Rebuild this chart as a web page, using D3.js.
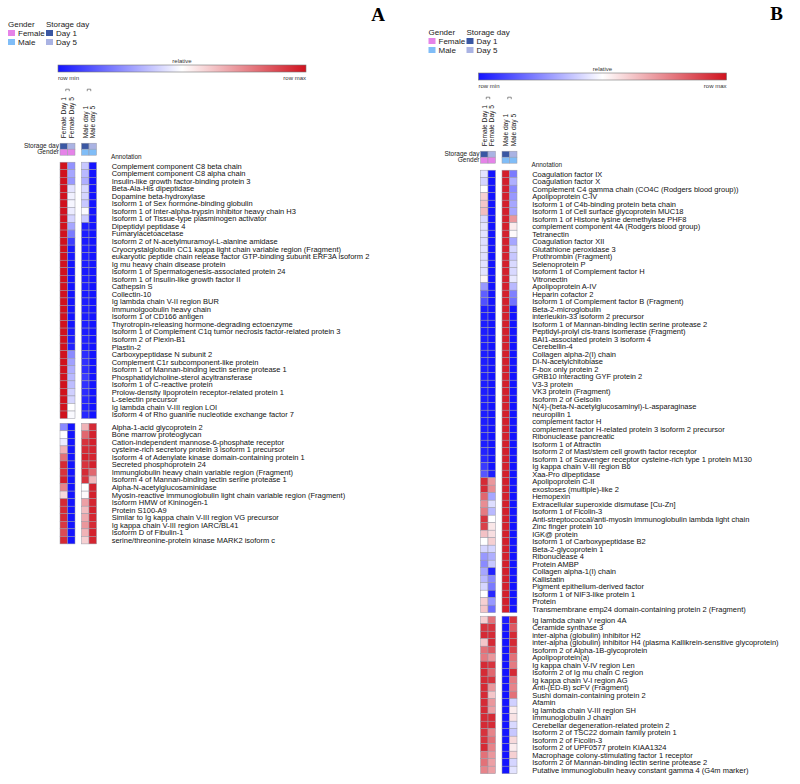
<!DOCTYPE html>
<html><head><meta charset="utf-8">
<script src="https://cdn.jsdelivr.net/npm/d3@7"></script>
<style>body{margin:0;background:#fff}svg{display:block}</style>
</head><body><svg id="c" width="800" height="784"></svg>
<script>
// ---------- DATA ----------
const colNames = ["Female Day 1", "Female Day 5", "Male day 1", "Male day 5"];
const colGender = ["Female", "Female", "Male", "Male"];
const colDay = ["Day 1", "Day 5", "Day 1", "Day 5"];
const genderLevels = ["Female", "Male"];
const dayLevels = ["Day 1", "Day 5"];
const colorbarLabels = ["row min", "row max"];

const labelsA1 = [
"Complement component C8 beta chain","Complement component C8 alpha chain","Insulin-like growth factor-binding protein 3",
"Beta-Ala-His dipeptidase","Dopamine beta-hydroxylase","Isoform 1 of Sex hormone-binding globulin",
"Isoform 1 of Inter-alpha-trypsin inhibitor heavy chain H3","Isoform 1 of Tissue-type plasminogen activator",
"Dipeptidyl peptidase 4","Fumarylacetoacetase","Isoform 2 of N-acetylmuramoyl-L-alanine amidase",
"Cryocrystalglobulin CC1 kappa light chain variable region (Fragment)",
"eukaryotic peptide chain release factor GTP-binding subunit ERF3A isoform 2","Ig mu heavy chain disease protein",
"Isoform 1 of Spermatogenesis-associated protein 24","Isoform 1 of Insulin-like growth factor II","Cathepsin S",
"Collectin-10","Ig lambda chain V-II region BUR","Immunolgoobulin heavy chain","Isoform 1 of CD166 antigen",
"Thyrotropin-releasing hormone-degrading ectoenzyme","Isoform 1 of Complement C1q tumor necrosis factor-related protein 3",
"Isoform 2 of Plexin-B1","Plastin-2","Carboxypeptidase N subunit 2","Complement C1r subcomponent-like protein",
"Isoform 1 of Mannan-binding lectin serine protease 1","Phosphatidylcholine-sterol acyltransferase",
"Isoform 1 of C-reactive protein","Prolow-density lipoprotein receptor-related protein 1","L-selectin precursor",
"Ig lambda chain V-III region LOI","Isoform 4 of Rho guanine nucleotide exchange factor 7"];
const valuesA1 = [
[1,0.27,0.38,0],[1,0.31,0.35,0],[1,0.28,0.33,0],[1,0.44,0.42,0],[1,0.47,0.41,0],[1,0.48,0.38,0],
[1,0.46,0.49,0],[1,0.41,0.39,0],[1,0.31,0.02,0],[1,0.22,0.02,0],[1,0.09,0.01,0],[1,0.01,0.02,0],
[1,0.01,0.02,0],[1,0,0.02,0],[1,0,0.01,0],[1,0,0.02,0],[1,0,0.02,0],[1,0,0.01,0],
[1,0,0.02,0],[1,0,0.02,0],[1,0,0.02,0],[1,0,0.02,0],[1,0.01,0.02,0],[1,0.02,0.03,0],
[1,0.03,0.02,0],[1,0.25,0.05,0],[1,0.3,0.06,0],[1,0.33,0.05,0],[1,0.35,0.08,0],[1,0.36,0.06,0],
[1,0.4,0.05,0],[1,0.41,0.04,0],[1,0.5,0.03,0],[1,0.49,0.04,0]];

const labelsA2 = [
"Alpha-1-acid glycoprotein 2","Bone marrow proteoglycan","Cation-independent mannose-6-phosphate receptor",
"cysteine-rich secretory protein 3 isoform 1 precursor","Isoform 4 of Adenylate kinase domain-containing protein 1",
"Secreted phosphoprotein 24","Immunglobulin heavy chain variable region (Fragment)",
"Isoform 4 of Mannan-binding lectin serine protease 1","Alpha-N-acetylglucosaminidase",
"Myosin-reactive immunoglobulin light chain variable region (Fragment)","Isoform HMW of Kininogen-1","Protein S100-A9",
"Similar to Ig kappa chain V-III region VG precursor","Ig kappa chain V-III region IARC/BL41","Isoform D of Fibulin-1",
"serine/threonine-protein kinase MARK2 isoform c"];
const valuesA2 = [
[0.25,0,0.66,0.95],[0.5,0,0.82,0.97],[0.46,0,0.93,0.97],[0.66,0,0.95,0.96],[0.8,0,0.97,0.96],
[0.95,0,0.93,0.97],[0.93,0,0.95,0.82],[0.97,0,0.93,0.65],[0.76,0,0.5,0.97],[0.58,0,0.51,0.97],
[0.95,0,0.7,0.96],[0.95,0,0.64,0.97],[0.95,0,0.68,0.96],[0.92,0,0.72,0.95],[0.88,0,0.66,0.97],
[0.95,0,0.6,0.96]];

const labelsB1 = [
"Coagulation factor IX","Coagulation factor X","Complement C4 gamma chain (CO4C (Rodgers blood group))",
"Apolipoprotein C-IV","Isoform 1 of C4b-binding protein beta chain","Isoform 1 of Cell surface glycoprotein MUC18",
"Isoform 1 of Histone lysine demethylase PHF8","complement component 4A (Rodgers blood group)","Tetranectin",
"Coagulation factor XII","Glutathione peroxidase 3","Prothrombin (Fragment)","Selenoprotein P",
"Isoform 1 of Complement factor H","Vitronectin","Apolipoprotein A-IV","Heparin cofactor 2",
"Isoform 1 of Complement factor B (Fragment)","Beta-2-microglobulin","interleukin-33 isoform 2 precursor",
"Isoform 1 of Mannan-binding lectin serine protease 2","Peptidyl-prolyl cis-trans isomerase (Fragment)",
"BAI1-associated protein 3 isoform 4","Cerebellin-4","Collagen alpha-2(I) chain","Di-N-acetylchitobiase",
"F-box only protein 2","GRB10 interacting GYF protein 2","V3-3 protein","VK3 protein (Fragment)",
"Isoform 2 of Gelsolin","N(4)-(beta-N-acetylglucosaminyl)-L-asparaginase","neuropilin 1","complement factor H",
"complement factor H-related protein 3 isoform 2 precursor","Ribonuclease pancreatic","Isoform 1 of Attractin",
"Isoform 2 of Mast/stem cell growth factor receptor",
"Isoform 1 of Scavenger receptor cysteine-rich type 1 protein M130","Ig kappa chain V-III region B6",
"Xaa-Pro dipeptidase","Apolipoprotein C-II","exostoses (multiple)-like 2","Hemopexin",
"Extracellular superoxide dismutase [Cu-Zn]","Isoform 1 of Ficolin-3",
"Anti-streptococcal/anti-myosin immunoglobulin lambda light chain","Zinc finger protein 10","IGK@ protein",
"Isoform 1 of Carboxypeptidase B2","Beta-2-glycoprotein 1","Ribonuclease 4","Protein AMBP",
"Collagen alpha-1(I) chain","Kallistatin","Pigment epithelium-derived factor","Isoform 1 of NIF3-like protein 1",
"Protein","Transmembrane emp24 domain-containing protein 2 (Fragment)"];
const valuesB1 = [
[0.44,0,0.97,0.22],[0.41,0,0.97,0.33],[0.5,0,0.97,0.25],[0.6,0,0.97,0.28],[0.62,0,0.97,0.31],
[0.64,0,0.97,0.31],[0.42,0,0.97,0.72],[0.44,0,0.97,0.54],[0.44,0,0.97,0.51],[0.43,0,0.97,0.31],
[0.44,0,0.97,0.41],[0.43,0,0.97,0.38],[0.44,0,0.97,0.42],[0.44,0,0.97,0.42],[0.52,0,0.97,0.45],
[0.28,0,0.97,0.35],[0.16,0,0.97,0.23],[0.13,0,0.97,0.2],[0.02,0,0.97,0],[0.02,0,0.97,0],
[0.02,0,0.97,0],[0.02,0,0.97,0],[0.02,0,0.97,0],[0.02,0,0.97,0],[0.02,0,0.97,0],
[0.02,0,0.97,0],[0.02,0,0.97,0],[0.02,0,0.97,0],[0.02,0,0.97,0],[0.02,0,0.97,0],
[0.02,0,0.97,0],[0.02,0,0.97,0],[0.02,0,0.97,0],[0.02,0,0.97,0],[0.02,0,0.97,0],
[0.02,0,0.97,0],[0.02,0,0.97,0],[0.03,0,0.97,0],[0.04,0,0.97,0],[0.08,0,0.97,0],
[0.14,0.02,0.97,0],[0.95,0.72,0.97,0],[0.95,0.74,0.97,0],[0.82,0.31,0.97,0],[0.74,0.43,0.97,0],
[0.78,0.35,0.97,0],[0.93,0.5,0.97,0],[0.9,0.55,0.97,0],[0.63,0.57,0.97,0],[0.5,0.6,0.97,0],
[0.41,0.41,0.97,0],[0.28,0.33,0.97,0],[0.25,0.38,0.97,0],[0.31,0.03,0.97,0],[0.35,0.25,0.97,0],
[0.41,0.22,0.97,0],[0.5,0.04,0.97,0],[0.6,0.28,0.97,0],[0.62,0.19,0.97,0]];

const labelsB2 = [
"Ig lambda chain V region 4A","Ceramide synthase 3","inter-alpha (globulin) inhibitor H2",
"inter-alpha (globulin) inhibitor H4 (plasma Kallikrein-sensitive glycoprotein)","Isoform 2 of Alpha-1B-glycoprotein",
"Apolipoprotein(a)","Ig kappa chain V-IV region Len","Isoform 2 of Ig mu chain C region","Ig kappa chain V-I region AG",
"Anti-(ED-B) scFV (Fragment)","Sushi domain-containing protein 2","Afamin","Ig lambda chain V-III region SH",
"Immunoglobulin J chain","Cerebellar degeneration-related protein 2","Isoform 2 of TSC22 domain family protein 1",
"Isoform 2 of Ficolin-3","Isoform 2 of UPF0577 protein KIAA1324","Macrophage colony-stimulating factor 1 receptor",
"Isoform 2 of Mannan-binding lectin serine protease 2","Putative immunoglobulin heavy constant gamma 4 (G4m marker)"];
const valuesB2 = [
[0.6,0.8,0.02,0.93],[0.93,0.93,0,0.85],[0.95,0.95,0,0.95],[0.62,0.95,0,0.95],[0.8,0.85,0,0.9],
[0.78,0.72,0,0.8],[0.95,0.93,0,0.78],[0.95,0.82,0,0.95],[0.95,0.93,0,0.78],[0.95,0.72,0,0.76],
[0.95,0.62,0,0.8],[0.95,0.72,0,0.4],[0.95,0.7,0,0.54],[0.95,0.95,0,0.56],[0.95,0.95,0,0.42],
[0.93,0.76,0,0.38],[0.93,0.8,0,0.58],[0.95,0.76,0,0.54],[0.8,0.72,0,0.6],[0.8,0.7,0,0.41],
[0.76,0.7,0,0.44]];

// ---------- STYLE ----------
const FONT = "'Liberation Sans', Arial, sans-serif";
const color = d3.scaleLinear().domain([0, 0.5, 1]).range(["#1414ff", "#ffffff", "#d0121e"]);
const genderColor = d3.scaleOrdinal().domain(genderLevels).range(["#e583e8", "#80bdf7"]);
const dayColor = d3.scaleOrdinal().domain(dayLevels).range(["#3a57a3", "#aab3e3"]);
const gridStroke = "#9a9aa6";

const svg = d3.select("#c");
const defs = svg.append("defs");
const grad = defs.append("linearGradient").attr("id", "gradRel");
d3.range(0, 1.0001, 0.1).forEach(t => grad.append("stop").attr("offset", t).attr("stop-color", color(t)));

function drawPanel(cfg) {
  const g = svg.append("g").attr("transform", `translate(${cfg.ox},${cfg.oy})`);
  const cw = 7.5, colGap = 6.5, x0 = 60, top = cfg.top, rh = cfg.rh;

  // letter
  svg.append("text").attr("x", cfg.lx).attr("y", cfg.ly)
    .attr("font-family", "'Liberation Serif', 'Times New Roman', serif").attr("font-weight", "bold")
    .attr("font-size", 19).attr("text-anchor", "middle").text(cfg.letter);

  // legend
  const leg = g.append("g").attr("font-family", FONT).attr("font-size", 8).attr("fill", "#222");
  leg.append("text").attr("x", 8).attr("y", 27).text("Gender");
  leg.append("text").attr("x", 46).attr("y", 27).text("Storage day");
  genderLevels.forEach((k, i) => {
    leg.append("rect").attr("x", 8).attr("y", 30 + i * 9).attr("width", 7).attr("height", 6).attr("fill", genderColor(k));
    leg.append("text").attr("x", 18).attr("y", 36 + i * 9).text(k);
  });
  dayLevels.forEach((k, i) => {
    leg.append("rect").attr("x", 46).attr("y", 30 + i * 9).attr("width", 7).attr("height", 6).attr("fill", dayColor(k));
    leg.append("text").attr("x", 56).attr("y", 36 + i * 9).text(k);
  });

  // colorbar
  const cb = d3.scaleLinear().domain([0, 1]).range([58, 306]);
  g.append("rect").attr("x", cb(0)).attr("y", 65).attr("width", cb(1) - cb(0)).attr("height", 7)
    .attr("fill", "url(#gradRel)").attr("stroke", "#777").attr("stroke-width", 0.6);
  g.append("text").attr("x", cb(0.5)).attr("y", 63).attr("text-anchor", "middle")
    .attr("font-family", FONT).attr("font-size", 6).attr("fill", "#333").text("relative");
  g.append("text").attr("x", cb(0)).attr("y", 79.5).attr("font-family", FONT).attr("font-size", 6).attr("fill", "#333").text(colorbarLabels[0]);
  g.append("text").attr("x", cb(1)).attr("y", 79.5).attr("text-anchor", "end").attr("font-family", FONT).attr("font-size", 6).attr("fill", "#333").text(colorbarLabels[1]);

  // columns
  const xBand = d3.scaleBand().domain(d3.range(colNames.length)).range([0, colNames.length * cw]);
  const xPos = i => x0 + xBand(i) + (colGender[i] === "Male" ? colGap : 0);

  // column labels
  colNames.forEach((n, i) => {
    g.append("text").attr("transform", `translate(${xPos(i) + cw / 2 + 2.3},${top - 24}) rotate(-90)`)
      .attr("font-family", FONT).attr("font-size", 6.6).attr("fill", "#222").text(n);
  });
  // small group brackets
  [[0, 1], [2, 3]].forEach(([a, b]) => {
    const xa = xPos(a) + cw / 2 + 2, xb = xPos(b) + cw / 2 - 2;
    const yb = top - 73;
    g.append("path").attr("d", `M${xa},${yb + 2}V${yb}H${xb}V${yb + 2}`).attr("fill", "none").attr("stroke", "#444").attr("stroke-width", 0.6);
  });

  // annotations
  const ann = [{ name: "Storage day", y: top - 19, f: i => dayColor(colDay[i]) },
               { name: "Gender", y: top - 13, f: i => genderColor(colGender[i]) }];
  ann.forEach(a => {
    g.append("text").attr("x", x0 - 1).attr("y", a.y + 3).attr("dy", "0.35em").attr("text-anchor", "end")
      .attr("font-family", FONT).attr("font-size", 6.5).attr("fill", "#222").text(a.name);
    colNames.forEach((n, i) => {
      g.append("rect").attr("x", xPos(i)).attr("y", a.y).attr("width", cw).attr("height", 6)
        .attr("fill", a.f(i)).attr("stroke", gridStroke).attr("stroke-width", 0.5);
    });
  });
  g.append("text").attr("x", x0 + 51).attr("y", top - 5.5).attr("dy", "0.35em")
    .attr("font-family", FONT).attr("font-size", 6.4).attr("fill", "#222").text("Annotation");

  // heatmap groups
  let gTop = top;
  cfg.groups.forEach(grp => {
    const n = grp.labels.length;
    const y = d3.scaleBand().domain(d3.range(n)).range([gTop, gTop + n * rh]);
    const gg = g.append("g");
    grp.values.forEach((row, r) => {
      row.forEach((v, c) => {
        gg.append("rect").attr("x", xPos(c)).attr("y", y(r)).attr("width", cw).attr("height", y.bandwidth())
          .attr("fill", color(v)).attr("stroke", gridStroke).attr("stroke-width", 0.5);
      });
    });
    gg.selectAll("text.lab").data(grp.labels).join("text").attr("class", "lab")
      .attr("x", x0 + 51.7).attr("y", (d, r) => y(r) + y.bandwidth() / 2).attr("dy", "0.35em")
      .attr("font-family", FONT).attr("font-size", 7.5).attr("fill", "#111").text(d => d);
    gTop += n * rh + cfg.groupGap;
  });
}

drawPanel({ letter: "A", lx: 378, ly: 21, ox: 0, oy: 0, top: 162.2, rh: 7.54, groupGap: 4.7,
  groups: [{ labels: labelsA1, values: valuesA1 }, { labels: labelsA2, values: valuesA2 }] });
drawPanel({ letter: "B", lx: 776.5, ly: 19.5, ox: 420.5, oy: 8, top: 162.2, rh: 7.5, groupGap: 3.5,
  groups: [{ labels: labelsB1, values: valuesB1 }, { labels: labelsB2, values: valuesB2 }] });
</script></body></html>
